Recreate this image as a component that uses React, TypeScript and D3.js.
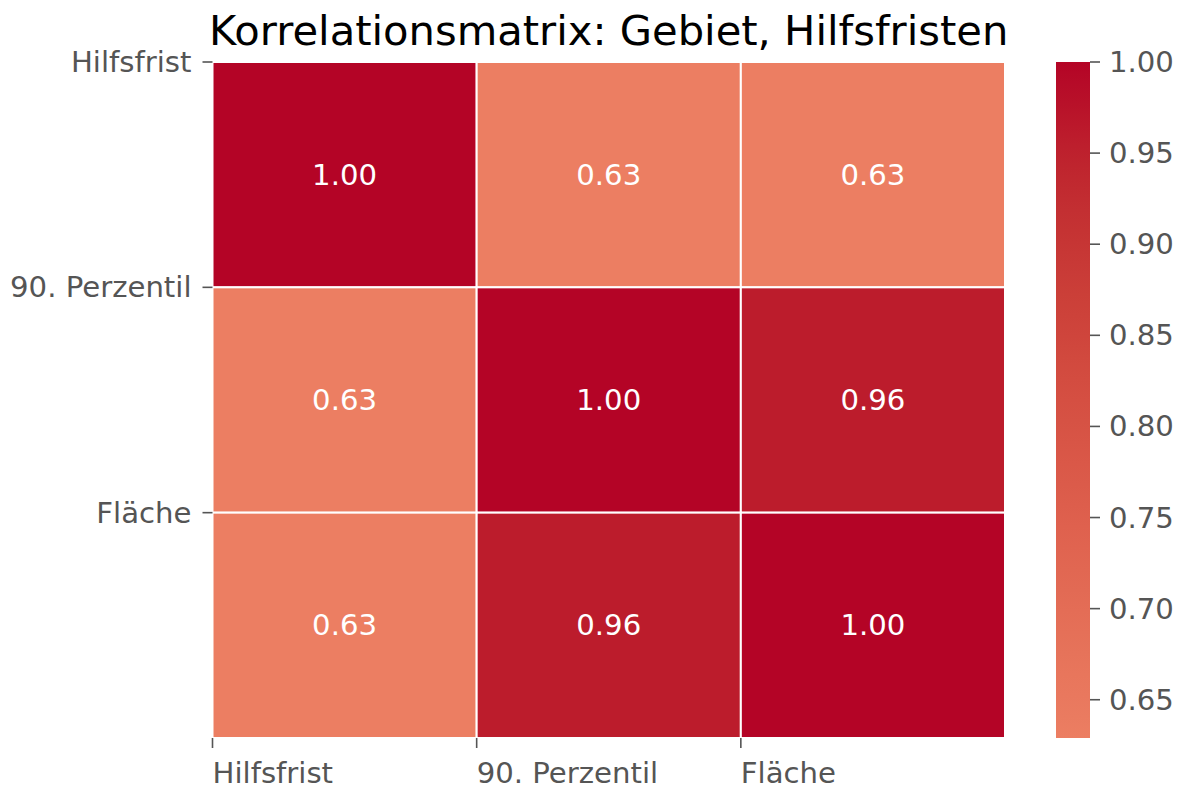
import React from 'react';
import * as d3 from 'd3';

// labels and correlation values
const labels = ['Hilfsfrist', '90. Perzentil', 'Fläche'];
const hilfsfristRow = [1.0, 0.629, 0.629];
const perzentilRow = [0.629, 1.0, 0.958];
const flaecheRow = [0.629, 0.958, 1.0];
const colorbarTicks = [0.65, 0.7, 0.75, 0.8, 0.85, 0.9, 0.95, 1.0];

// matplotlib/Moreland coolwarm anchors
const coolwarm = [
    [59, 76, 192], [68, 90, 204], [77, 104, 215], [87, 117, 225], [98, 130, 234],
    [108, 142, 241], [119, 154, 247], [130, 165, 251], [141, 176, 254], [152, 185, 255],
    [163, 194, 255], [174, 201, 253], [184, 208, 249], [194, 213, 244], [204, 217, 238],
    [213, 219, 230], [221, 221, 221], [229, 216, 209], [236, 211, 197], [241, 204, 185],
    [245, 196, 173], [247, 187, 160], [247, 177, 148], [247, 166, 135], [244, 154, 123],
    [241, 141, 111], [236, 127, 99], [229, 112, 88], [222, 96, 77], [213, 80, 66],
    [203, 62, 56], [192, 40, 47], [180, 4, 38]
];

const coolwarmInterp = d3.piecewise(d3.interpolateRgb, coolwarm.map(c => d3.rgb(c[0], c[1], c[2]).toString()));

const matrix = [hilfsfristRow, perzentilRow, flaecheRow];
const allValues = matrix.flat();
const vmin = d3.min(allValues)!;
const vmax = d3.max(allValues)!;
// seaborn center=0 -> norm over [-1, 1]
const colorOf = (v: number) => coolwarmInterp((v + 1) / 2);

const font = '"DejaVu Sans", sans-serif';
const tickColor = '#555555';

const App = () => {
    const left = 212.5, right = 1005, top = 62, bottom = 738;
    const x = d3.scaleBand<number>().domain(d3.range(labels.length)).range([left, right]);
    const y = d3.scaleBand<number>().domain(d3.range(labels.length)).range([top, bottom]);

    const cbX = 1056, cbW = 34;
    const cbScale = d3.scaleLinear().domain([vmin, vmax]).range([bottom, top]);
    const stops = d3.range(0, 1.0001, 1 / 32).map(t => {
        const v = vmin + t * (vmax - vmin);
        return { offset: t, color: colorOf(v) };
    });

    return (
        <svg width={1178} height={785} style={{ display: 'block', position: 'absolute', left: 0, top: 0 }} fontFamily={font}>
            <rect width={1178} height={785} fill="#ffffff" />
            <defs>
                <linearGradient id="cbgrad" x1="0" y1="1" x2="0" y2="0">
                    {stops.map((s, i) => <stop key={i} offset={s.offset} stopColor={s.color} />)}
                </linearGradient>
            </defs>
            <text x={(left + right) / 2} y={45} textAnchor="middle" fontSize={41.67} fill="#000">
                Korrelationsmatrix: Gebiet, Hilfsfristen
            </text>
            {matrix.map((row, ri) => row.map((v, ci) => (
                <g key={`${ri}-${ci}`}>
                    <rect x={x(ci)} y={y(ri)} width={x.bandwidth()} height={y.bandwidth()}
                        fill={colorOf(v)} stroke="#ffffff" strokeWidth={2} />
                    <text x={x(ci)! + x.bandwidth() / 2} y={y(ri)! + y.bandwidth() / 2}
                        textAnchor="middle" dominantBaseline="central" fontSize={29.17} fill="#ffffff">
                        {d3.format('.2f')(v)}
                    </text>
                </g>
            )))}
            {/* y axis */}
            {labels.map((l, i) => (
                <g key={`y${i}`}>
                    <line x1={left - 10} x2={left} y1={y(i)} y2={y(i)} stroke={tickColor} strokeWidth={1.6} />
                    <text x={left - 21} y={y(i)} textAnchor="end" dominantBaseline="central" fontSize={29.17} fill={tickColor}>{l}</text>
                </g>
            ))}
            {/* x axis */}
            {labels.map((l, i) => (
                <g key={`x${i}`}>
                    <line x1={x(i)} x2={x(i)} y1={bottom} y2={bottom + 10} stroke={tickColor} strokeWidth={1.6} />
                    <text x={x(i)} y={bottom + 45} textAnchor="start" fontSize={29.17} fill={tickColor}>{l}</text>
                </g>
            ))}
            {/* colorbar */}
            <rect x={cbX} y={top} width={cbW} height={bottom - top} fill="url(#cbgrad)" />
            {colorbarTicks.map((t, i) => (
                <g key={`c${i}`}>
                    <line x1={cbX + cbW} x2={cbX + cbW + 10} y1={cbScale(t)} y2={cbScale(t)} stroke={tickColor} strokeWidth={1.6} />
                    <text x={cbX + cbW + 19} y={cbScale(t)} dominantBaseline="central" fontSize={29.17} fill={tickColor}>
                        {d3.format('.2f')(t)}
                    </text>
                </g>
            ))}
        </svg>
    );
};

export default App;
